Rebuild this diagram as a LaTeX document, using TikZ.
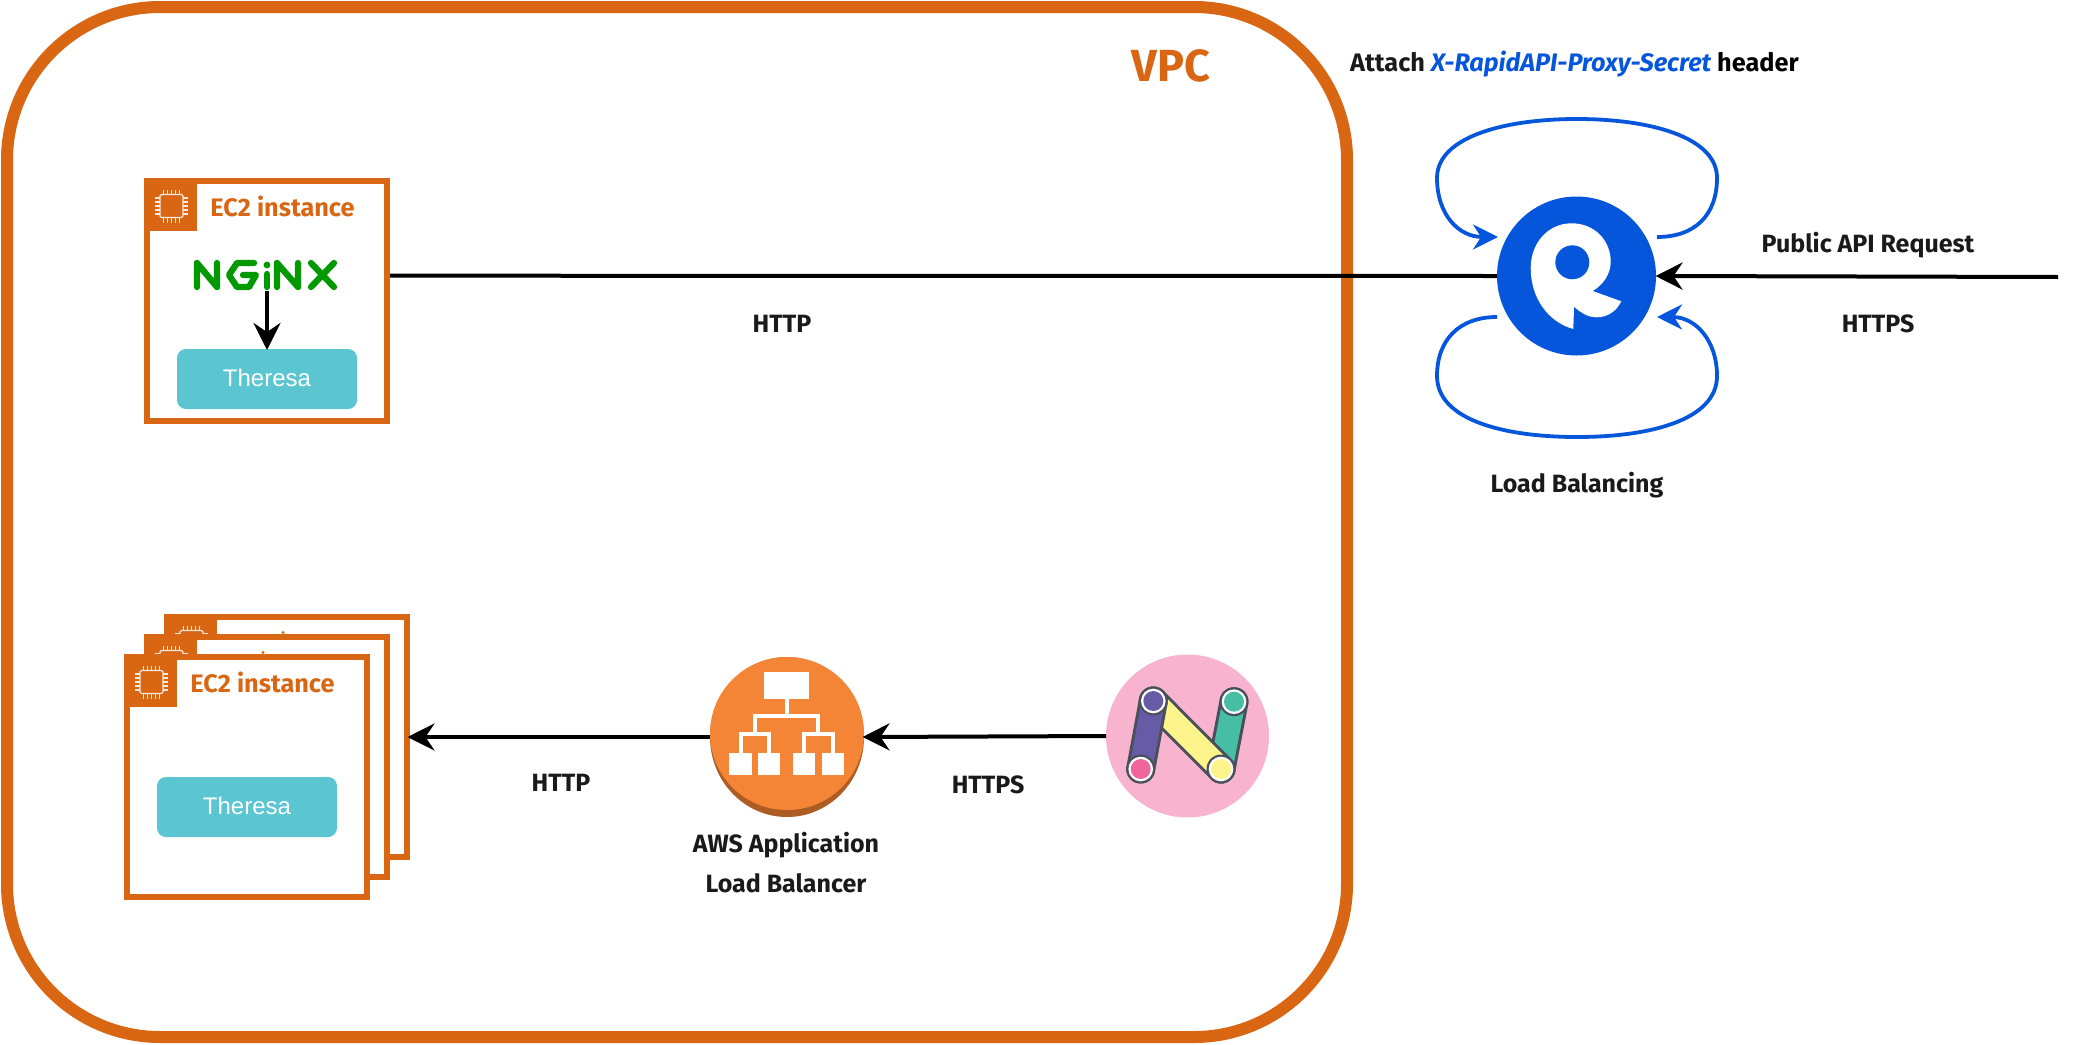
\documentclass[tikz,border=0pt]{standalone}
\usepackage{fontspec}
\setmainfont{Fira Sans}
\newfontfamily\helv{Liberation Sans}
\usetikzlibrary{arrows.meta,shapes.geometric}
\definecolor{awsor}{HTML}{D86613}
\definecolor{albor}{HTML}{F58536}
\definecolor{albdk}{HTML}{AD5C24}
\definecolor{rblue}{HTML}{0556DB}
\definecolor{thera}{HTML}{5BC5D1}
\definecolor{ink}{HTML}{1A1A1A}
\definecolor{ngreen}{HTML}{009900}
\definecolor{npink}{HTML}{F8B4CF}
\definecolor{npurple}{HTML}{675BA8}
\definecolor{nteal}{HTML}{46BEA4}
\definecolor{nyellow}{HTML}{FCF48A}
\definecolor{nrose}{HTML}{F0669B}
\definecolor{nslate}{HTML}{4A4F5C}
\tikzset{
  lbl/.style={font=\bfseries\fontsize{25}{30}\selectfont,text=ink,inner sep=0pt},
  ec2box/.style={draw=awsor,line width=6pt,fill=white,minimum width=240pt,minimum height=240pt,inner sep=0pt,outer sep=3pt},
  ec2title/.style={font=\bfseries\fontsize{25.3}{30}\selectfont,text=awsor,inner sep=0pt},
  appbox/.style={fill=thera,rounded corners=9pt,minimum width=180pt,minimum height=60pt,inner sep=0pt,outer sep=0pt,text=white,font=\helv\fontsize{24}{28}\selectfont},
  flow/.style={line width=4pt,draw=black,shorten >=-2.5pt,-{Stealth[length=27pt,width=27pt,inset=9pt]}},
  loopline/.style={line width=3.8pt,draw=rblue,shorten >=-1pt,-{Stealth[length=25pt,width=25pt,inset=8pt]}},
  bar/.style={line width=29pt,draw=nslate,line cap=round},
  albshape/.style={fill=white,draw=none},
  albline/.style={draw=white,line width=4pt},
  ngx/.style={draw=ngreen,line width=6.3pt,line cap=round,line join=round}
}
\newcommand{\ecinst}[3]{% x, y of outer top-left, name
  \node[ec2box] (#3) at (#1+123,#2+123) {};
  \fill[awsor] (#1,#2) rectangle (#1+53,#2+53);
  \draw[white!85!awsor,line width=1.3pt,rounded corners=1.5pt] (#1+16,#2+16.5) rectangle (#1+39,#2+39.5);
  \foreach \k in {0,4,8,12,16}{
    \draw[white!85!awsor,line width=1.1pt] (#1+19.5+\k,#2+11.5) -- (#1+19.5+\k,#2+16.5);
    \draw[white!85!awsor,line width=1.1pt] (#1+19.5+\k,#2+39.5) -- (#1+19.5+\k,#2+44.5);
    \draw[white!85!awsor,line width=1.1pt] (#1+11,#2+20+\k) -- (#1+16,#2+20+\k);
    \draw[white!85!awsor,line width=1.1pt] (#1+39,#2+20+\k) -- (#1+44,#2+20+\k);
  }
}
\begin{document}
\begin{tikzpicture}[x=1pt,y=-1pt]
\useasboundingbox (0,0) rectangle (2074,1044);
% VPC
\node[draw=none,inner sep=0pt,font=\bfseries\fontsize{45}{50}\selectfont,text=awsor] (vpclabel) at (1171,66) {VPC};
\draw[awsor,line width=12pt,rounded corners=153pt] (7,7) rectangle (1347,1037);
% top EC2
\ecinst{144}{178}{ectop}
\node[ec2title] (ectoptitle) at (282.5,206.5) {EC2 instance};
\node[appbox] (thtop) at (267,379) {\raisebox{3pt}{Theresa}};
\draw[ngx] (197,287) -- (197,263) -- (217,287) -- (217,263);
\draw[ngx] (254,263) -- (237,263) -- (229,275) -- (237,287) -- (249,287) -- (256,275) -- (243,275);
\draw[ngx] (267,274) -- (267,287);
\fill[ngreen] (267,265) circle (3.4pt);
\draw[ngx] (277,287) -- (277,263) -- (298,287) -- (298,263);
\draw[ngx] (311,263) -- (334,287);
\draw[ngx] (334,263) -- (311,287);
\coordinate (nginxout) at (267,291);
\draw[flow,shorten >=-1pt] (nginxout) -- (thtop.north);
% stack
\ecinst{164}{614}{ecback}
\fill[awsor] (283,632.5) circle (1.6pt);
\ecinst{144}{634}{ecmid}
\fill[awsor] (263,652.5) circle (1.6pt);
\ecinst{124}{654}{ecfront}
\node[ec2title] (ecfronttitle) at (262.5,682.5) {EC2 instance};
\node[appbox] (thfront) at (247,807) {\raisebox{3pt}{Theresa}};
% ALB
\node[ellipse,fill=albdk,minimum width=154pt,minimum height=160pt,inner sep=0pt,outer sep=0pt] (alb) at (787,737) {};
\fill[albor] (787,733.5) ellipse (77pt and 76.5pt);
\fill[albshape] (764,672) rectangle (809,699);
\draw[albline] (787,699) -- (787,716);
\draw[albline] (755,734) -- (755,716) -- (818,716) -- (818,734);
\draw[albline] (740.5,753) -- (740.5,734) -- (769,734) -- (769,753);
\draw[albline] (804,753) -- (804,734) -- (833,734) -- (833,753);
\fill[albshape] (729,753) rectangle (751.5,775);
\fill[albshape] (758,753) rectangle (780,775);
\fill[albshape] (792.5,753) rectangle (815,775);
\fill[albshape] (821.5,753) rectangle (844,775);
\node[lbl] (alba) at (786,845) {AWS Application};
\node[lbl] (albb) at (786,883) {Load Balancer};
% N logo
\node[circle,fill=npink,minimum size=163pt,inner sep=0pt,outer sep=0pt] (nlogo) at (1187.5,736) {};
\draw[bar] (1234,701.7) -- (1221,769);
\draw[line width=23pt,nteal] (1234,701.7) -- (1221,769);
\draw[bar] (1153.3,701) -- (1221,769);
\draw[line width=23pt,nyellow] (1153.3,701) -- (1221,769);
\draw[bar] (1153.3,701) -- (1140.7,769);
\draw[line width=23pt,npurple] (1153.3,701) -- (1140.7,769);
\foreach \cx/\cy/\cc in {1153.3/701/npurple,1140.7/769/nrose,1234/701.7/nteal,1221/769/nyellow}{
  \fill[nslate] (\cx,\cy) circle (14.5pt);
  \fill[white] (\cx,\cy) circle (12.3pt);
  \fill[\cc] (\cx,\cy) circle (10pt);
}
% Rapid logo
\node[circle,fill=rblue,minimum size=159pt,inner sep=0pt,outer sep=0pt] (rapid) at (1576.5,276) {};
\fill[white] (1573.3,329) .. controls (1548,322) and (1530.7,298) .. (1530.7,268)
  .. controls (1530.7,243) and (1548,223.3) .. (1571.7,223.3)
  .. controls (1594,223.3) and (1610.7,240) .. (1610.7,261.7)
  .. controls (1610.7,274) and (1603,285) .. (1592.7,291)
  -- (1621.3,301.3) .. controls (1616,312) and (1607,317.3) .. (1596.7,317.3)
  .. controls (1588,317.3) and (1581,313) .. (1574,306.7) -- cycle;
\fill[rblue] (1572.3,262.3) circle (17pt);
% connectors
\coordinate (ectopout) at (390,275.7);
\coordinate (pubin) at (2058,277);
\draw[line width=4pt] (ectopout) -- (rapid.west);
\draw[flow] (pubin) -- ([xshift=2pt]rapid.east);
\draw[flow] (nlogo.west) -- ([xshift=1pt]alb.east);
\draw[flow] (alb.west) -- (ecback.east);
\coordinate (tr) at (1657,237);
\coordinate (tl) at (1497,237);
\coordinate (bl) at (1497,317);
\coordinate (br) at (1658,317);
\draw[loopline] (tr) .. controls (1695,237) and (1717,215) .. (1717,178) .. controls (1717,137) and (1650,119) .. (1577,119) .. controls (1504,119) and (1437,137) .. (1437,178) .. controls (1437,215) and (1459,237) .. (tl);
\draw[loopline] (bl) .. controls (1459,317) and (1437,340) .. (1437,376) .. controls (1437,420) and (1504,437) .. (1577,437) .. controls (1650,437) and (1717,420) .. (1717,376) .. controls (1717,340) and (1695,317) .. (br);
% labels
\node[lbl,anchor=west,font=\bfseries\fontsize{25.3}{30}\selectfont] (attach) at (1350,64.5) {Attach \textcolor{rblue}{\itshape X-RapidAPI-Proxy-Secret} \textcolor{black}{header}};
\node[lbl] (h1) at (782,324) {HTTP};
\node[lbl] (pub) at (1868,245) {Public API Request};
\node[lbl] (h2) at (1878,324) {HTTPS};
\node[lbl] (lb) at (1577,485) {Load Balancing};
\node[lbl] (h3) at (561,783) {HTTP};
\node[lbl] (h4) at (988,785) {HTTPS};
\end{tikzpicture}
\end{document}
